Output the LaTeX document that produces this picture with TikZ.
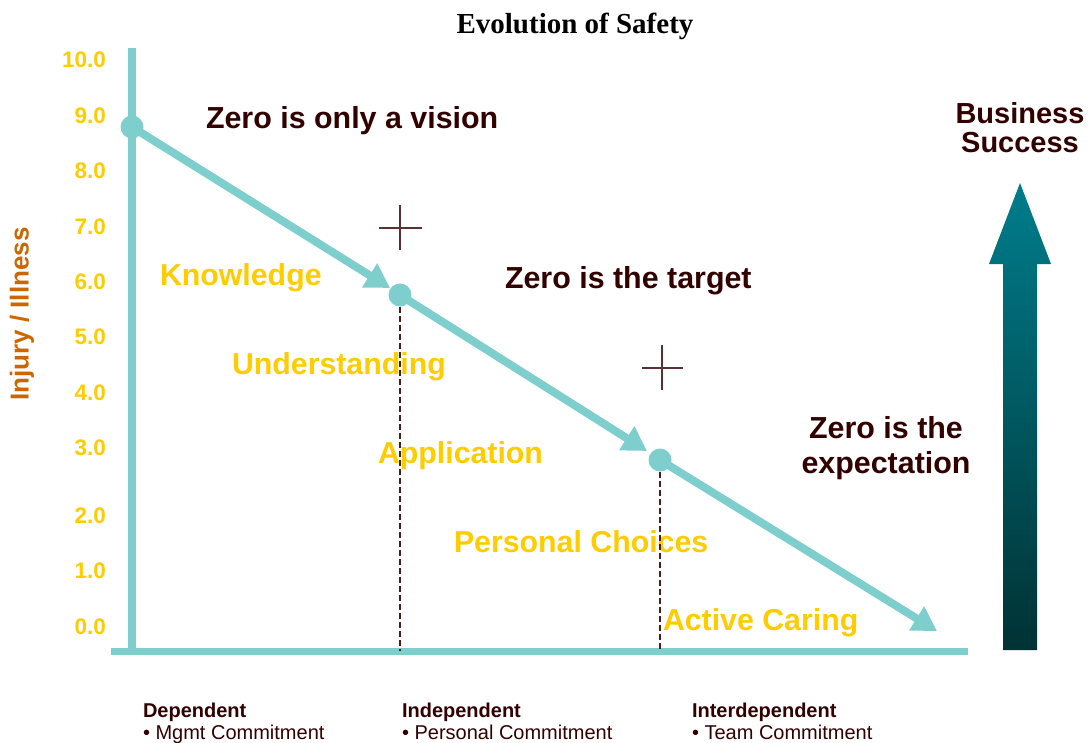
\documentclass[tikz,border=0pt]{standalone}
\usepackage{fontspec}
\setmainfont{Liberation Sans}
\newfontfamily\titlefont{Liberation Serif}
\usetikzlibrary{arrows.meta}
\definecolor{lineteal}{RGB}{127,206,206}
\definecolor{gold}{RGB}{255,204,0}
\definecolor{darkbrown}{RGB}{51,0,0}
\definecolor{axisorange}{RGB}{204,102,0}
\definecolor{crossbrown}{RGB}{92,48,48}
\definecolor{guidebrown}{RGB}{70,30,30}
\definecolor{arrowtop}{RGB}{0,125,140}
\definecolor{arrowmid}{RGB}{0,102,115}
\definecolor{arrowbottom}{RGB}{0,50,52}

\begin{document}
\begin{tikzpicture}[x=1pt,y=-1pt,
  every node/.style={inner sep=0pt, outer sep=0pt},
  tick/.style={font=\fontsize{22.5}{26}\selectfont\bfseries, text=gold, anchor=east},
  stage/.style={font=\fontsize{30.3}{35}\selectfont\bfseries, text=gold, anchor=base west},
  claim/.style={font=\fontsize{30.4}{35}\selectfont\bfseries, text=darkbrown},
  level/.style={font=\fontsize{20}{22}\selectfont, text=darkbrown, anchor=north west, align=left},
  axisline/.style={draw=lineteal},
  trend/.style={line width=8pt, draw=lineteal, -{Triangle[length=24pt,width=27pt]}},
  milestone/.style={circle, fill=lineteal, minimum size=23pt},
  guide/.style={draw=guidebrown, line width=1.2pt, dash pattern=on 6pt off 3pt},
  marker/.style={draw=crossbrown, line width=1.3pt},
]
\useasboundingbox (0,0) rectangle (1091,742);

% title
\node[font=\titlefont\bfseries\fontsize{29}{32}\selectfont, anchor=base] (title) at (575,33) {Evolution of Safety};

% axes
\coordinate (ytop) at (132,48);
\coordinate (ybot) at (132,655);
\coordinate (xleft) at (111,651);
\coordinate (xright) at (968,651);
\draw[axisline, line width=8pt] (ytop) -- (ybot);
\draw[axisline, line width=7pt] (xleft) -- (xright);

% scale
\node[tick] (t10) at (106,60) {10.0};
\node[tick] (t9) at (106,116) {9.0};
\node[tick] (t8) at (106,171) {8.0};
\node[tick] (t7) at (106,227) {7.0};
\node[tick] (t6) at (106,282) {6.0};
\node[tick] (t5) at (106,337) {5.0};
\node[tick] (t4) at (106,393) {4.0};
\node[tick] (t3) at (106,448) {3.0};
\node[tick] (t2) at (106,516) {2.0};
\node[tick] (t1) at (106,571) {1.0};
\node[tick] (t0) at (106,627) {0.0};

\node[rotate=90, font=\fontsize{26}{30}\selectfont\bfseries, text=axisorange] (ylabel) at (22,314) {Injury / Illness};

% stages of the culture
\node[stage] (knowledge) at (160,285) {Knowledge};
\node[stage] (understanding) at (232,374) {Understanding};
\node[stage] (application) at (378,463) {Application};
\node[stage] (choices) at (454,552) {Personal Choices};
\node[stage] (caring) at (663,630) {Active Caring};

% statements
\node[claim, anchor=base west] (vision) at (206,128) {Zero is only a vision};
\node[claim, anchor=base west] (target) at (505,288) {Zero is the target};
\node[claim, align=center] (expect) at (886,448) {Zero is the\\expectation};

% milestones and trend
\node[milestone] (p1) at (132,127) {};
\node[milestone] (p2) at (400,295) {};
\node[milestone] (p3) at (660,460) {};
\coordinate (a1) at (390,288);
\coordinate (a2) at (647,451);
\coordinate (a3) at (937,631);
\draw[trend] (p1.center) -- (a1);
\draw[trend] (p2.center) -- (a2);
\draw[trend] (p3.center) -- (a3);

% drop lines to the axis
\draw[guide] (p2.south) -- (p2 |- xleft);
\draw[guide] (p3.south) -- (p3 |- xleft);

% cross markers
\coordinate (c1) at (400,228);
\coordinate (c2) at (662,368);
\draw[marker] (c1) ++(-21,0) -- ++(43,0) (c1) ++(0,-23) -- ++(0,45);
\draw[marker] (c2) ++(-20,0) -- ++(41,0) (c2) ++(0,-23) -- ++(0,45);

% business success arrow
\shade[top color=arrowtop, middle color=arrowmid, bottom color=arrowbottom]
  (1003,650) -- (1003,264) -- (989,264) -- (1020,183) -- (1051,264) -- (1037,264) -- (1037,650) -- cycle;
\node[font=\fontsize{29}{29}\selectfont\bfseries, text=darkbrown, align=center] (success) at (1020,128) {Business\\Success};

% levels of interdependence
\node[level] (dep) at (143,703) {\textbf{Dependent}\\• Mgmt Commitment};
\node[level] (indep) at (402,703) {\textbf{Independent}\\• Personal Commitment};
\node[level] (inter) at (692,703) {\textbf{Interdependent}\\• Team Commitment};
\end{tikzpicture}
\end{document}
